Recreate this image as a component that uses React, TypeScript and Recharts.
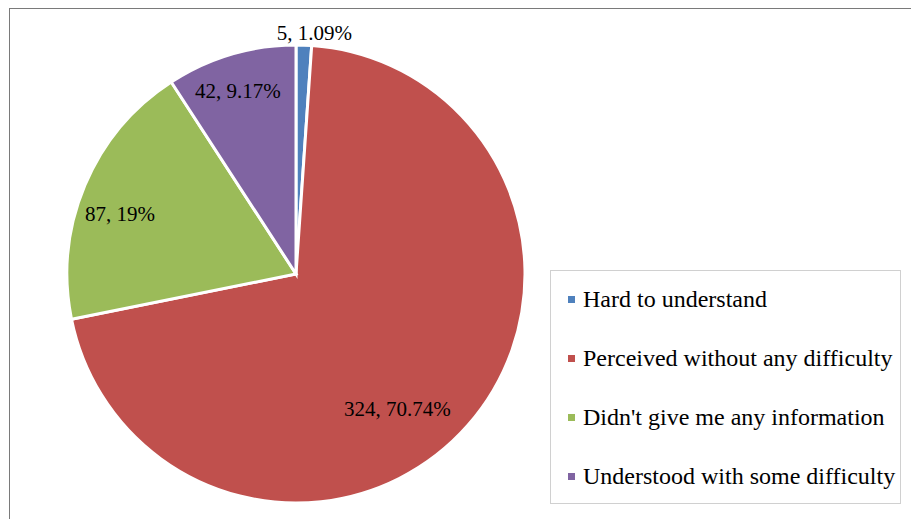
import { PieChart, Pie, Cell, Legend } from "recharts"

const categories = [
    "Hard to understand",
    "Perceived without any difficulty",
    "Didn't give me any information",
    "Understood with some difficulty",
]
const counts = [5, 324, 87, 42]
const percentLabels = ["1.09%", "70.74%", "19%", "9.17%"]
const colors = ["#4F81BD", "#C0504D", "#9BBB59", "#8064A2"]

// label placement tweaks (radius factor, angle nudge in degrees) to mimic Excel's best-fit
const labelRadius = [1.055, 0.737, 0.812, 0.838]
const labelNudge = [-2.4, -11.8, 4.0, 1.1]

const data = categories.map((name, i) => ({ name, value: counts[i], pct: percentLabels[i] }))

const RADIAN = Math.PI / 180
const FONT = "'Liberation Serif', 'Times New Roman', serif"

const renderLabel = (props: any) => {
    const { cx, cy, midAngle, outerRadius, index } = props
    const r = outerRadius * labelRadius[index]
    const a = (midAngle + labelNudge[index]) * RADIAN
    const x = cx + r * Math.cos(-a)
    const y = cy + r * Math.sin(-a)
    return (
        <text
            x={x}
            y={y}
            fill="#000"
            fontSize={21}
            style={{ fontFamily: FONT }}
            textAnchor="middle"
            dominantBaseline="central"
        >
            {`${counts[index]}, ${percentLabels[index]}`}
        </text>
    )
}

const LegendBox = () => (
    <div
        style={{
            width: 349,
            height: 232,
            border: "1px solid #d0d0d0",
            background: "#fff",
            fontFamily: FONT,
            fontSize: 24,
            color: "#000",
            position: "relative",
        }}
    >
        {categories.map((name, i) => (
            <div
                key={name}
                style={{
                    position: "absolute",
                    left: 17,
                    top: 28 + i * 59 - 16,
                    height: 32,
                    display: "flex",
                    alignItems: "center",
                    whiteSpace: "nowrap",
                }}
            >
                <span style={{ width: 7, height: 7, background: colors[i], display: "inline-block", marginRight: 8 }} />
                <span>{name}</span>
            </div>
        ))}
    </div>
)

export default function App() {
    return (
        <div style={{ position: "absolute", left: 0, top: 0, width: 911, height: 519, background: "#fff", overflow: "hidden" }}>
            <div
                style={{
                    position: "absolute",
                    left: 9,
                    top: 8,
                    width: 920,
                    height: 530,
                    borderLeft: "1.5px solid #7a7a7a",
                    borderTop: "1.5px solid #7a7a7a",
                }}
            />
            <div style={{ position: "absolute", left: 0, top: 0 }}>
                <PieChart width={911} height={519} margin={{ top: 0, right: 0, bottom: 0, left: 0 }}>
                    <Pie
                        data={data}
                        dataKey="value"
                        nameKey="name"
                        cx={296}
                        cy={274}
                        outerRadius={229}
                        startAngle={90}
                        endAngle={-270}
                        stroke="#fff"
                        strokeWidth={3}
                        label={renderLabel}
                        labelLine={false}
                        isAnimationActive={false}
                    >
                        {data.map((entry, index) => (
                            <Cell key={`cell-${index}`} fill={colors[index]} />
                        ))}
                    </Pie>
                    <Legend
                        content={() => <LegendBox />}
                        wrapperStyle={{ position: "absolute", left: 550, top: 270, width: 351, height: 234 }}
                    />
                </PieChart>
            </div>
        </div>
    )
}
